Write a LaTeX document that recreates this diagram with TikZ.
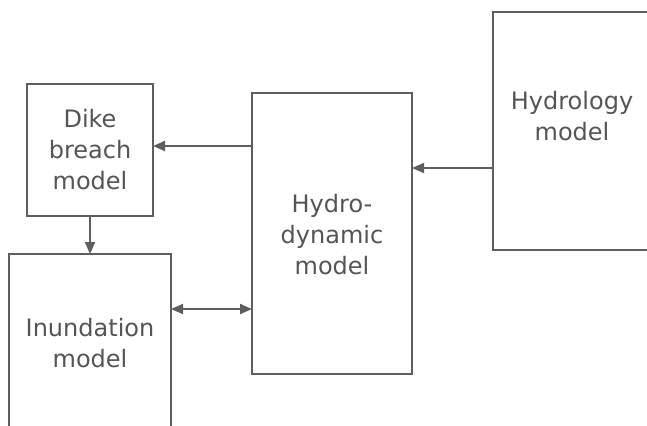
\documentclass[tikz,border=0pt]{standalone}
\usepackage{fontspec}
\setmainfont{DejaVu Sans}
\usetikzlibrary{arrows.meta}
\definecolor{linegray}{HTML}{5E5E5E}
\definecolor{textgray}{HTML}{555555}
\begin{document}
\begin{tikzpicture}[x=0.5pt,y=-0.5pt,
  box/.style={draw=linegray, line width=1pt, inner sep=0pt, outer sep=0pt},
  lbl/.style={text=textgray, font=\fontsize{12}{15.5}\selectfont, align=center, inner sep=0pt},
  arr/.style={draw=linegray, line width=1pt, -{Triangle[length=6pt,width=5pt]}},
  darr/.style={draw=linegray, line width=1pt, {Triangle[length=6pt,width=5pt]}-{Triangle[length=6pt,width=5pt]}}]
\useasboundingbox (0,0) rectangle (647,425);
\fill[white] (0,0) rectangle (647,425);
\node[box, minimum width=63pt, minimum height=66pt] (dike) at (90,150) {};
\node[box, minimum width=81pt, minimum height=93pt] (inund) at (90,347) {};
\node[box, minimum width=80pt, minimum height=140.5pt] (hydro) at (332,233.5) {};
\node[box, minimum width=81pt, minimum height=119pt] (hydrol) at (574,131) {};
\node[lbl] (tdike) at (90,150) {Dike\\breach\\model};
\node[lbl] (tinund) at (90,343) {Inundation\\model};
\node[lbl] (thydro) at (332,235) {Hydro-\\dynamic\\model};
\node[lbl] (thydrol) at (572,116) {Hydrology\\model};
\draw[arr] (hydro.west |- {0,146}) -- (dike.east |- {0,146});
\draw[arr] (dike.south) -- (inund.north);
\draw[darr] (inund.east |- {0,309}) -- (hydro.west |- {0,309});
\draw[arr] (hydrol.west |- {0,168}) -- (hydro.east |- {0,168});
\end{tikzpicture}
\end{document}
